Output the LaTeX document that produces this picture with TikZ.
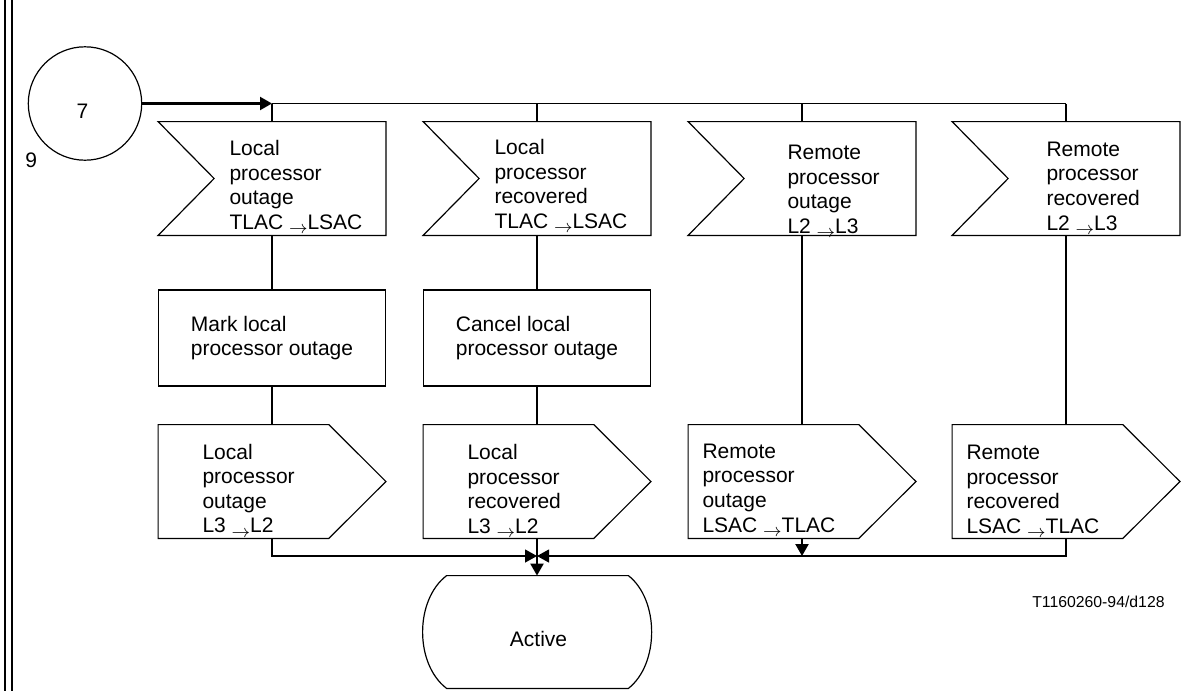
\documentclass[tikz,border=0pt]{standalone}
\usepackage{fontspec}
\setmainfont{Liberation Sans}
\usetikzlibrary{arrows.meta,calc,positioning}
\newcommand{\toarr}{\smash{\raisebox{-2.2pt}{\small$\rightarrow$}}}
\begin{document}
\begin{tikzpicture}[
  x=0.5pt, y=-0.5pt,
  every node/.style={font=\fontsize{10.5}{12.3}\selectfont},
  wire/.style={line width=0.6pt},
  heavywire/.style={line width=1.1pt},
  flow/.style={-{Triangle[length=6pt,width=6.5pt]}},
  sig/.style={minimum width=113.5pt, minimum height=56.5pt, inner sep=0pt},
  task/.style={draw, line width=0.6pt, minimum width=113.5pt,
    minimum height=48pt, align=left, inner sep=0pt},
  txt/.style={align=left, inner sep=0pt},
  statebox/.style={minimum width=114pt, minimum height=56pt, inner sep=0pt}
]
\useasboundingbox (0,0) rectangle (1182,691);
\draw[line width=1pt] (5,0) -- (5,691) (11.5,0) -- (11.5,691);

\node[draw, wire, circle, minimum size=56.7pt, inner sep=0pt] (conA) at (85,103.5) {};
\node[inner sep=0pt] (conAt) at ($(conA)+(-2.5,7.5)$) {7};
\node[inner sep=0pt, anchor=base west] (pg) at (25,167) {9};

\node[sig] (inA) at (272,178.5) {};
\node[sig] (inB) at (537,178.5) {};
\node[sig] (inC) at (802,178.5) {};
\node[sig] (inD) at (1066,178.5) {};
\node[txt, right=35.5pt of inA.west, yshift=-3.25pt] (inAt)
  {Local\\processor\\outage\\TLAC \toarr LSAC};
\node[txt, right=35.5pt of inB.west, yshift=-2.75pt] (inBt)
  {Local\\processor\\recovered\\TLAC \toarr LSAC};
\node[txt, right=49.5pt of inC.west, yshift=-5.5pt] (inCt)
  {Remote\\processor\\outage\\L2 \toarr L3};
\node[txt, right=47pt of inD.west, yshift=-3.75pt] (inDt)
  {Remote\\processor\\recovered\\L2 \toarr L3};

\node[task] (taskA) at (272,338) {Mark local\\processor outage};
\node[task] (taskB) at (537,338) {Cancel local\\processor outage};

\node[sig] (outA) at (272,481.5) {};
\node[sig] (outB) at (537,481.5) {};
\node[sig] (outC) at (802,481.5) {};
\node[sig] (outD) at (1066,481.5) {};
\node[txt, right=22pt of outA.west, yshift=-3.5pt] (outAt)
  {Local\\processor\\outage\\L3 \toarr L2};
\node[txt, right=22pt of outB.west, yshift=-3.75pt] (outBt)
  {Local\\processor\\recovered\\L3 \toarr L2};
\node[txt, right=7pt of outC.west, yshift=-3.25pt] (outCt)
  {Remote\\processor\\outage\\LSAC \toarr TLAC};
\node[txt, right=7pt of outD.west, yshift=-4pt] (outDt)
  {Remote\\processor\\recovered\\LSAC \toarr TLAC};

\node[statebox] (actv) at (537,632) {};
\node[inner sep=0pt] (actvt) at ($(actv)+(1.5,7)$) {Active};

\node[font=\fontsize{7.9}{9}\selectfont, anchor=base east, inner sep=0pt] (fig)
  at (1165,607) {T1160260-94/d128};

\foreach \sh in {inA,inB,inC,inD}
  \draw[wire] (\sh.north west) -- (\sh.north east) -- (\sh.south east)
    -- (\sh.south west) -- ($(\sh.west)+(56,0)$) -- cycle;
\foreach \sh in {outA,outB,outC,outD}
  \draw[wire] (\sh.north west) -- ($(\sh.north east)+(-57,0)$) -- (\sh.east)
    -- ($(\sh.south east)+(-57,0)$) -- (\sh.south west) -- cycle;
\draw[wire] ($(actv.north west)+(24,0)$) -- ($(actv.north east)+(-23,0)$)
  .. controls ($(actv.east)+(8,-32)$) and ($(actv.east)+(8,32)$) .. ($(actv.south east)+(-23,0)$)
  -- ($(actv.south west)+(24,0)$)
  .. controls ($(actv.west)+(-8,32)$) and ($(actv.west)+(-8,-32)$) .. cycle;

\draw[heavywire, flow] (conA) -- (conA -| inA);
\draw[wire] (conA -| inA) -- (conA -| inD);
\draw[wire] (conA -| inA) -- (inA.north);
\draw[heavywire] (conA -| inB) -- (inB.north);
\draw[heavywire] (conA -| inC) -- (inC.north);
\draw[wire] (conA -| inD) -- (inD.north);

\draw[wire] (inA) -- (taskA);
\draw[wire] (taskA) -- (outA);
\draw[heavywire] (inB) -- (taskB);
\draw[heavywire] (taskB) -- (outB);
\draw[heavywire] (inC) -- (outC);
\draw[wire] (inD) -- (outD);

\coordinate (jn) at (537,556);
\draw[wire, flow] (outA) |- (jn);
\draw[wire, flow] (outD) |- (jn);
\draw[heavywire, flow] (outB) -- (actv);
\draw[heavywire, flow] (outC) -- (outC |- jn);
\end{tikzpicture}
\end{document}
